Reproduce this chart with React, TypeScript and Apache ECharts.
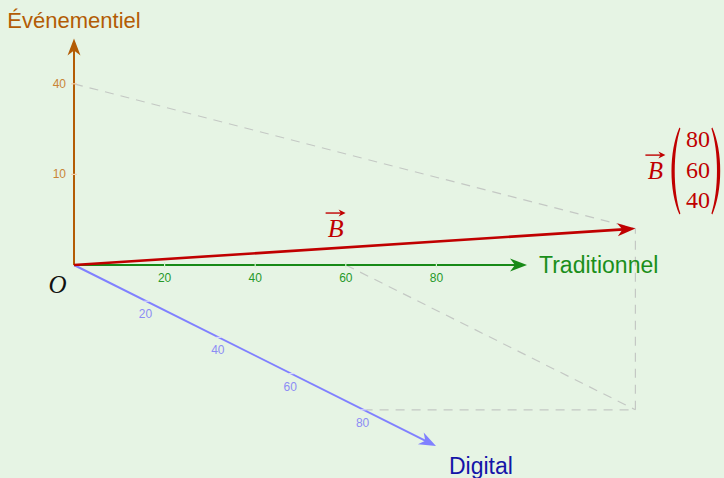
import React, { useEffect, useRef } from 'react';
import * as echarts from 'echarts';

// ---- data ----
const axisNames = ['Traditionnel', 'Digital', 'Événementiel'];
const axisLengths = [100, 100, 50];
const tradTicks = [20, 40, 60, 80];
const tradTickLabels = ['20', '40', '60', '80'];
const digitalTicks = [20, 40, 60, 80];
const digitalTickLabels = ['20', '40', '60', '80'];
const eventTicks = [20, 40];
const eventTickLabels = ['10', '40'];
// drawn components of B: traditionnel, digital, événementiel
const vectorB = [60, 80, 40];
const vectorBLabels = ['80', '60', '40'];

const PX = 4.53;
// oblique projection of the digital axis (in units of the other axes)
const DIG = [3.62 / PX, -1.81 / PX];
const proj = (t: number, d: number, e: number) => [t + d * DIG[0], e + d * DIG[1]];

const ORIGIN = [74, 265];
const W = 724;
const H = 478;

const axisColors = ['#178a17', '#8080ff', '#b35c05'];
const axisNameColors = ['#1a8f1a', '#1414a8', '#b35c05'];
const axisNameSizes = [23, 23, 22];
const tickLabelColors = ['#26992a', '#8c8cf5', '#c98436'];
const tickMarkColors = ['#d6efd2', '#d4d4ff', '#f3d3b0'];
const RED = '#c00000';
const SANS = 'Liberation Sans';
const SERIF = 'Liberation Serif';

function arrowHead(tip: number[], from: number[], color: string, len = 17, half = 6.5, notch = 5) {
  const dx = tip[0] - from[0];
  const dy = tip[1] - from[1];
  const L = Math.hypot(dx, dy);
  const ux = dx / L, uy = dy / L;
  const px = -uy, py = ux;
  const bx = tip[0] - ux * len, by = tip[1] - uy * len;
  const nx = tip[0] - ux * (len - notch), ny = tip[1] - uy * (len - notch);
  return {
    head: {
      type: 'polygon',
      shape: { points: [tip, [bx + px * half, by + py * half], [nx, ny], [bx - px * half, by - py * half]] },
      style: { fill: color },
    },
    lineEnd: [nx + ux * 1, ny + uy * 1],
  };
}

const axisData = [proj(axisLengths[0], 0, 0), proj(0, axisLengths[1], 0), proj(0, 0, axisLengths[2])];

const tickData: number[][] = [
  ...tradTicks.map((v, i) => [...proj(v, 0, 0), 0, i]),
  ...digitalTicks.map((v, i) => [...proj(0, v, 0), 1, i]),
  ...eventTicks.map((v, i) => [...proj(0, 0, v), 2, i]),
];
const tickLabelSets = [tradTickLabels, digitalTickLabels, eventTickLabels];

const [bt, bd, be] = vectorB;
const guideData = [
  [...proj(0, 0, be), ...proj(bt, bd, be)],
  [...proj(bt, 0, 0), ...proj(bt, bd, 0)],
  [...proj(0, bd, 0), ...proj(bt, bd, 0)],
  [...proj(bt, bd, 0), ...proj(bt, bd, be)],
];
const bData = [proj(bt, bd, be)];

function vecLabel(cx: number, cy: number, size: number) {
  const ay = cy - 15;
  const ah = arrowHead([cx + 10, ay], [cx - 10, ay], RED, 7, 3.5, 2.2);
  return [
    {
      type: 'text',
      x: cx,
      y: cy,
      style: { text: 'B', fill: RED, fontSize: size, fontFamily: SERIF, fontStyle: 'italic', align: 'center', verticalAlign: 'middle' },
    },
    {
      type: 'line',
      shape: { x1: cx - 10, y1: ay, x2: ah.lineEnd[0], y2: ah.lineEnd[1] },
      style: { stroke: RED, lineWidth: 1.4 },
    },
    ah.head,
  ];
}

export default function App() {
  const ref = useRef<HTMLDivElement>(null);
  useEffect(() => {
    if (!ref.current) return;
    const chart = echarts.init(ref.current, null, { renderer: 'svg' });
    const option: any = {
      animation: false,
      backgroundColor: '#e6f4e4',
      grid: { left: 0, right: 0, top: 0, bottom: 0 },
      xAxis: { type: 'value', min: -ORIGIN[0] / PX, max: (W - ORIGIN[0]) / PX, show: false },
      yAxis: { type: 'value', min: -(H - ORIGIN[1]) / PX, max: ORIGIN[1] / PX, show: false },
      series: [
        {
          type: 'custom',
          name: 'guides',
          data: guideData,
          renderItem: (_p: any, api: any) => {
            const a = api.coord([api.value(0), api.value(1)]);
            const b = api.coord([api.value(2), api.value(3)]);
            return {
              type: 'line',
              shape: { x1: a[0], y1: a[1], x2: b[0], y2: b[1] },
              style: { stroke: '#c4c8c4', lineWidth: 1.2, lineDash: [9, 7] },
            };
          },
        },
        {
          type: 'custom',
          name: 'axes',
          data: axisData,
          renderItem: (params: any, api: any) => {
            const i = params.dataIndex;
            const o = api.coord([0, 0]);
            const tip = api.coord([api.value(0), api.value(1)]);
            const ah = arrowHead(tip, o, axisColors[i]);
            let lx = tip[0], ly = tip[1], align = 'left';
            if (i === 0) { lx += 12; }
            else if (i === 1) { lx += 13; ly += 20; }
            else { ly -= 18; align = 'center'; }
            return {
              type: 'group',
              children: [
                { type: 'line', shape: { x1: o[0], y1: o[1], x2: ah.lineEnd[0], y2: ah.lineEnd[1] }, style: { stroke: axisColors[i], lineWidth: 2 } },
                ah.head,
                {
                  type: 'text', x: lx, y: ly,
                  style: { text: axisNames[i], fill: axisNameColors[i], fontSize: axisNameSizes[i], fontFamily: SANS, align, verticalAlign: 'middle' },
                },
              ],
            };
          },
        },
        {
          type: 'custom',
          name: 'ticks',
          data: tickData,
          renderItem: (_p: any, api: any) => {
            const p = api.coord([api.value(0), api.value(1)]);
            const ax = api.value(2);
            const li = api.value(3);
            const text = tickLabelSets[ax][li];
            let mark: any, lbl: any;
            if (ax === 0) {
              mark = { x1: p[0], y1: p[1] - 3, x2: p[0], y2: p[1] + 3 };
              lbl = { x: p[0], y: p[1] + 13, align: 'center' };
            } else if (ax === 1) {
              mark = { x1: p[0] - 3, y1: p[1], x2: p[0] + 3, y2: p[1] };
              lbl = { x: p[0] - 1, y: p[1] + 13, align: 'center' };
            } else {
              mark = { x1: p[0] - 3, y1: p[1], x2: p[0] + 3, y2: p[1] };
              lbl = { x: p[0] - 8, y: p[1], align: 'right' };
            }
            return {
              type: 'group',
              children: [
                { type: 'line', shape: mark, style: { stroke: tickMarkColors[ax], lineWidth: 1.2 } },
                {
                  type: 'text', x: lbl.x, y: lbl.y,
                  style: { text, fill: tickLabelColors[ax], fontSize: 12, fontFamily: SANS, align: lbl.align, verticalAlign: 'middle' },
                },
              ],
            };
          },
        },
        {
          type: 'custom',
          name: 'B',
          data: bData,
          renderItem: (_p: any, api: any) => {
            const o = api.coord([0, 0]);
            const tip = api.coord([api.value(0), api.value(1)]);
            const ah = arrowHead(tip, o, RED, 18, 6.5, 5);
            const f = 0.466;
            const mx = o[0] + (tip[0] - o[0]) * f;
            const my = o[1] + (tip[1] - o[1]) * f - 20;
            const cx = tip[0] + 20, cy = tip[1] - 58.5;
            const leftParen = 'M8 0 C-2.5 24 -2.5 63 8 87 L9 86 C1.5 63 1.5 24 9 1 Z';
            const rightParen = 'M0 0 C10.5 24 10.5 63 0 87 L-1 86 C6.5 63 6.5 24 -1 1 Z';
            const nums = vectorBLabels.map((t, k) => ({
              type: 'text',
              x: tip[0] + 62.5,
              y: tip[1] - 89.5 + k * 30.5,
              style: { text: t, fill: RED, fontSize: 24, fontFamily: SERIF, align: 'center', verticalAlign: 'middle' },
            }));
            return {
              type: 'group',
              children: [
                { type: 'line', shape: { x1: o[0], y1: o[1], x2: ah.lineEnd[0], y2: ah.lineEnd[1] }, style: { stroke: RED, lineWidth: 2.6 } },
                ah.head,
                ...vecLabel(mx, my, 26),
                ...vecLabel(cx, cy, 25),
                { type: 'path', x: tip[0] + 36, y: tip[1] - 101, shape: { pathData: leftParen }, style: { fill: RED } },
                { type: 'path', x: tip[0] + 77, y: tip[1] - 101, shape: { pathData: rightParen }, style: { fill: RED } },
                ...nums,
              ],
            };
          },
        },
        {
          type: 'custom',
          name: 'origin',
          data: [[0, 0]],
          renderItem: (_p: any, api: any) => {
            const o = api.coord([api.value(0), api.value(1)]);
            return {
              type: 'text', x: o[0] - 16.5, y: o[1] + 19,
              style: { text: 'O', fill: '#111', fontSize: 25, fontFamily: SERIF, fontStyle: 'italic', align: 'center', verticalAlign: 'middle' },
            };
          },
        },
      ],
    };
    chart.setOption(option);
    return () => chart.dispose();
  }, []);
  return <div ref={ref} style={{ position: 'fixed', left: 0, top: 0, width: W, height: H }} />;
}
